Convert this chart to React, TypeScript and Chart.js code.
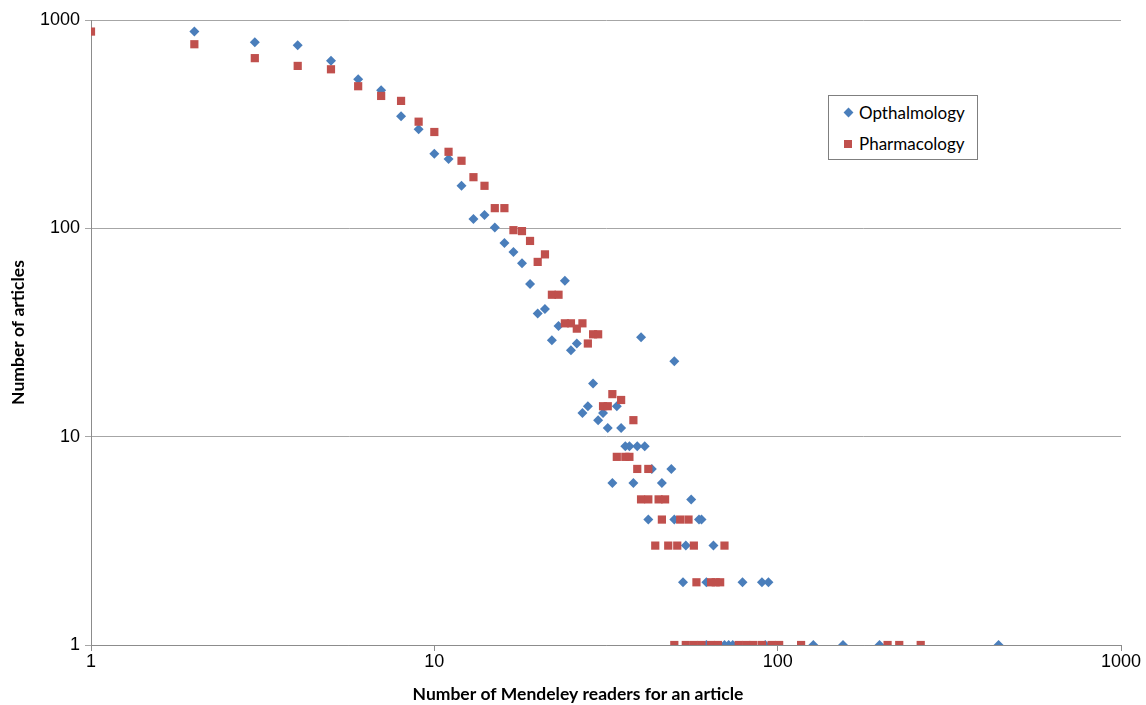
import React, { useEffect, useRef } from 'react';
import { Chart, registerables } from 'chart.js';

Chart.register(...registerables);

// Opthalmology: number of Mendeley readers (x) vs number of articles (y)
const ophthReaders = [2, 3, 4, 5, 6, 7, 8, 9, 10, 11, 12, 13, 14, 15, 16, 17, 18, 19, 20, 21, 22, 23, 24, 25, 26, 27, 28, 29, 30, 31, 32, 33, 34, 35, 36, 37, 38, 39, 40, 41, 42, 43, 46, 49, 50, 50, 53, 54, 56, 59, 60, 62, 62, 65, 70, 72, 74, 79, 90, 92, 94, 127, 155, 198, 440];
const ophthArticles = [880, 782, 757, 638, 520, 460, 345, 299, 228, 215, 160, 111, 116, 101, 85, 77, 68, 54, 39, 41, 29, 34, 56, 26, 28, 13, 14, 18, 12, 13, 11, 6, 14, 11, 9, 9, 6, 9, 30, 9, 4, 7, 6, 7, 4, 23, 2, 3, 5, 4, 4, 2, 1, 3, 1, 1, 1, 2, 2, 1, 2, 1, 1, 1, 1];

// Pharmacology
const pharmReaders = [1, 2, 3, 4, 5, 6, 7, 8, 9, 10, 11, 12, 13, 14, 15, 16, 17, 18, 19, 20, 21, 22, 23, 24, 25, 26, 27, 28, 29, 30, 31, 32, 33, 34, 35, 36, 37, 38, 39, 40, 42, 42, 44, 45, 46, 47, 48, 51, 52, 55, 57, 58, 64, 66, 68, 70, 50, 54, 57, 60, 64, 67, 77, 81, 85, 90, 96, 101, 117, 209, 226, 261];
const pharmArticles = [880, 765, 656, 602, 580, 481, 432, 409, 325, 290, 233, 211, 176, 160, 125, 125, 98, 97, 87, 69, 75, 48, 48, 35, 35, 33, 35, 28, 31, 31, 14, 14, 16, 8, 15, 8, 8, 12, 7, 5, 7, 5, 3, 5, 4, 5, 3, 3, 4, 4, 3, 2, 2, 2, 2, 3, 1, 1, 1, 1, 1, 1, 1, 1, 1, 1, 1, 1, 1, 1, 1, 1];

const xTickValues = [1, 10, 100, 1000];
const yTickValues = [1, 10, 100, 1000];

const seriesNames = ['Opthalmology', 'Pharmacology'];
const seriesColors = ['#4A7EBB', '#C0504D'];
const seriesShapes = ['rectRot', 'rect'];

const xTitle = 'Number of Mendeley readers for an article';
const yTitle = 'Number of articles';

const gridColor = '#A6A6A6';
const axisColor = '#8C8C8C';

export default function App() {
  const canvasRef = useRef<HTMLCanvasElement>(null);

  useEffect(() => {
    document.body.style.margin = '0';
    const canvas = canvasRef.current;
    if (!canvas) return;
    const chart = new Chart(canvas, {
      type: 'scatter',
      data: {
        datasets: [
          {
            label: seriesNames[0],
            data: ophthReaders.map((x, i) => ({ x, y: ophthArticles[i] })),
            pointStyle: seriesShapes[0] as any,
            pointRadius: 5,
            backgroundColor: seriesColors[0],
            borderColor: seriesColors[0],
            borderWidth: 0,
            order: 1,
          },
          {
            label: seriesNames[1],
            data: pharmReaders.map((x, i) => ({ x, y: pharmArticles[i] })),
            pointStyle: seriesShapes[1] as any,
            pointRadius: 5.8,
            backgroundColor: seriesColors[1],
            borderColor: seriesColors[1],
            borderWidth: 0,
            order: 0,
          },
        ],
      },
      options: {
        responsive: false,
        animation: false,
        events: [],
        layout: { padding: { left: 10, right: 0, top: 20, bottom: 0 } },
        plugins: {
          legend: { display: false },
          tooltip: { enabled: false },
          title: {
            display: true,
            position: 'bottom',
            text: xTitle,
            color: '#000',
            font: { family: 'Lato', size: 17.5, weight: 'bold', lineHeight: 1.2 },
            padding: { top: 0, bottom: 0 },
          },
        },
        scales: {
          x: {
            type: 'logarithmic',
            position: 'bottom',
            min: 1,
            max: 1000,
            afterBuildTicks: (s: any) => {
              s.ticks = xTickValues.map((v) => ({ value: v }));
            },
            afterFit: (s: any) => {
              s.height = 39;
              s.paddingRight = 25;
            },
            ticks: {
              autoSkip: false,
              maxRotation: 0,
              padding: 0,
              color: '#000',
              font: { family: 'Liberation Sans', size: 18 },
              callback: (v: any) => String(v),
            },
            grid: {
              display: true,
              drawOnChartArea: false,
              drawTicks: true,
              tickLength: 6,
              color: axisColor,
              lineWidth: 1,
            },
            border: { display: true, color: axisColor, width: 1 },
          },
          y: {
            type: 'logarithmic',
            position: 'left',
            min: 1,
            max: 1000,
            afterBuildTicks: (s: any) => {
              s.ticks = yTickValues.map((v) => ({ value: v }));
            },
            afterFit: (s: any) => {
              s.width = 81;
            },
            ticks: {
              autoSkip: false,
              padding: 5,
              color: '#000',
              font: { family: 'Liberation Sans', size: 18 },
              callback: (v: any) => String(v),
            },
            grid: {
              display: true,
              drawOnChartArea: true,
              drawTicks: true,
              tickLength: 6,
              color: gridColor,
              lineWidth: 1,
            },
            border: { display: true, color: axisColor, width: 1 },
            title: {
              display: true,
              text: yTitle,
              color: '#000',
              font: { family: 'Lato', size: 17.5, weight: 'bold', lineHeight: 1 },
              padding: { top: -0.5, bottom: 0 },
            },
          },
        },
      },
    });
    return () => chart.destroy();
  }, []);

  return (
    <div style={{ position: 'fixed', left: 0, top: 0, width: 1146, height: 705, background: '#fff' }}>
      <canvas ref={canvasRef} width={1146} height={705} style={{ display: 'block', width: 1146, height: 705 }} />
      <div
        style={{
          position: 'absolute',
          left: 828,
          top: 95,
          width: 150,
          height: 65,
          boxSizing: 'border-box',
          border: '1px solid #7F7F7F',
          background: '#fff',
          fontFamily: 'Lato',
          fontSize: 17,
          color: '#000',
        }}
      >
        {seriesNames.map((name, i) => (
          <div key={name} style={{ position: 'absolute', left: 0, top: i === 0 ? 4 : 35, height: 26, width: 148 }}>
            <div
              style={{
                position: 'absolute',
                left: i === 0 ? 16 : 15,
                top: 9,
                width: i === 0 ? 7 : 8,
                height: i === 0 ? 7 : 8,
                background: seriesColors[i],
                transform: i === 0 ? 'rotate(45deg)' : 'none',
              }}
            />
            <span style={{ position: 'absolute', left: 30, top: 3, lineHeight: '20px', whiteSpace: 'nowrap' }}>{name}</span>
          </div>
        ))}
      </div>
    </div>
  );
}
